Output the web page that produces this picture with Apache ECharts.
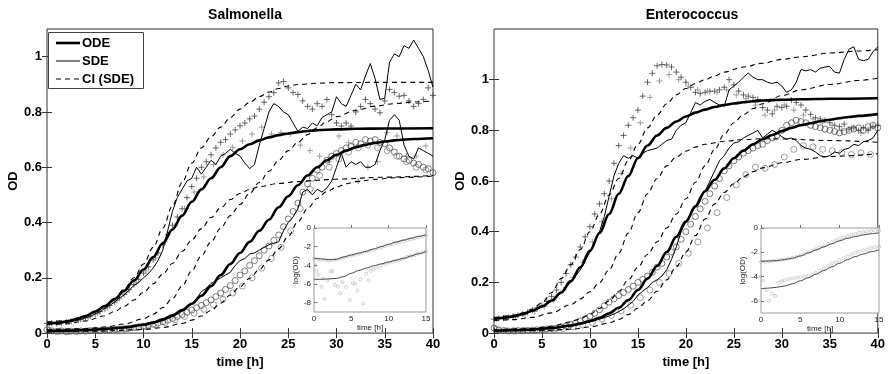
<!DOCTYPE html>
<html><head><meta charset="utf-8">
<script src="https://cdn.jsdelivr.net/npm/echarts@6/dist/echarts.min.js"></script>
<style>html,body{margin:0;padding:0;background:#fff}#c{width:888px;height:374px}</style>
</head><body><div id="c"></div>
<script>
// ---------- shared time grids ----------
const tHalf = [0,0.5,1,1.5,2,2.5,3,3.5,4,4.5,5,5.5,6,6.5,7,7.5,8,8.5,9,9.5,10,10.5,11,11.5,12,12.5,13,13.5,14,14.5,15,15.5,16,16.5,17,17.5,18,18.5,19,19.5,20,20.5,21,21.5,22,22.5,23,23.5,24,24.5,25,25.5,26,26.5,27,27.5,28,28.5,29,29.5,30,30.5,31,31.5,32,32.5,33,33.5,34,34.5,35,35.5,36,36.5,37,37.5,38,38.5,39,39.5,40];
const tOff = [0.25,1.25,2.25,3.25,4.25,5.25,6.25,7.25,8.25,9.25,10.25,11.25,12.25,13.25,14.25,15.25,16.25,17.25,18.25,19.25,20.25,21.25,22.25,23.25,24.25,25.25,26.25,27.25,28.25,29.25,30.25,31.25,32.25,33.25,34.25,35.25,36.25,37.25,38.25,39.25];
const insetT = [0,1,2,3,4,5,6,7,8,9,10,11,12,13,14,15];
const insetTHalf = [0,0.5,1,1.5,2,2.5,3,3.5,4,4.5,5,5.5,6,6.5,7,7.5,8,8.5,9,9.5,10,10.5,11,11.5,12,12.5,13,13.5,14,14.5,15];
const xTicks = [0,5,10,15,20,25,30,35,40];
const yTicks = [0,0.2,0.4,0.6,0.8,1];
const insetXTicks = [0,5,10,15];
const insetYTicksL = [0,-2,-4,-6,-8];
const insetYTicksR = [0,-2,-4,-6];
const titles = ['Salmonella','Enterococcus'];
const legendNames = ['ODE','SDE','CI (SDE)'];

// ---------- Salmonella (left) ----------
const odeL1 = [[0,0.035],[1,0.037],[2,0.042],[3,0.05],[4,0.062],[5,0.078],[6,0.098],[7,0.123],[8,0.153],[9,0.19],[10,0.23],[11,0.275],[12,0.325],[13,0.375],[14,0.425],[15,0.475],[16,0.52],[17,0.56],[18,0.6],[19,0.64],[20,0.665],[21,0.683],[22,0.697],[23,0.708],[24,0.716],[25,0.722],[26,0.727],[27,0.731],[28,0.734],[30,0.737],[32,0.739],[35,0.74],[40,0.741]];
const odeL2 = [[0,0.008],[2,0.009],[4,0.011],[6,0.015],[8,0.02],[10,0.03],[11,0.038],[12,0.05],[13,0.064],[14,0.083],[15,0.106],[16,0.135],[17,0.17],[18,0.21],[19,0.25],[20,0.29],[21,0.33],[22,0.37],[23,0.41],[24,0.455],[25,0.495],[26,0.535],[27,0.57],[28,0.6],[29,0.625],[30,0.645],[31,0.66],[32,0.672],[33,0.681],[34,0.688],[35,0.693],[36,0.697],[37,0.7],[38,0.702],[40,0.705]];
const ciL1U = [[0,0.04],[2,0.045],[4,0.062],[5,0.077],[6,0.097],[7,0.125],[8,0.16],[9,0.2],[10,0.25],[11,0.31],[12,0.38],[13,0.46],[14,0.545],[15,0.615],[16,0.67],[17,0.71],[18,0.745],[19,0.78],[20,0.81],[21,0.835],[22,0.855],[23,0.872],[24,0.885],[25,0.894],[26,0.899],[28,0.904],[30,0.906],[35,0.907],[40,0.907]];
const ciL1L = [[0,0.03],[2,0.034],[4,0.044],[6,0.063],[7,0.078],[8,0.097],[9,0.12],[10,0.147],[11,0.178],[12,0.213],[13,0.252],[14,0.295],[15,0.337],[16,0.378],[17,0.418],[18,0.453],[19,0.483],[20,0.505],[21,0.52],[22,0.53],[24,0.541],[26,0.548],[28,0.553],[30,0.557],[35,0.564],[40,0.57]];
const ciL2U = [[0,0.012],[4,0.016],[6,0.022],[8,0.033],[10,0.052],[11,0.068],[12,0.092],[13,0.125],[14,0.17],[15,0.225],[16,0.28],[17,0.33],[18,0.38],[19,0.425],[20,0.465],[21,0.505],[22,0.545],[23,0.585],[24,0.625],[25,0.66],[26,0.69],[27,0.718],[28,0.743],[29,0.765],[30,0.783],[32,0.806],[34,0.821],[36,0.83],[38,0.836],[40,0.84]];
const ciL2L = [[0,0.005],[5,0.007],[10,0.013],[12,0.02],[14,0.035],[15,0.047],[16,0.062],[17,0.082],[18,0.108],[19,0.138],[20,0.168],[21,0.198],[22,0.23],[23,0.265],[24,0.305],[25,0.35],[26,0.403],[27,0.45],[28,0.487],[29,0.512],[30,0.528],[31,0.54],[32,0.548],[34,0.556],[36,0.562],[40,0.568]];
const sdeL1 = [0.035,0.037,0.033,0.036,0.040,0.041,0.046,0.049,0.056,0.060,
 0.070,0.077,0.090,0.100,0.112,0.127,0.138,0.155,0.172,0.183,
 0.200,0.215,0.235,0.262,0.300,0.370,0.440,0.490,0.520,0.550,
 0.560,0.600,0.575,0.600,0.625,0.610,0.640,0.650,0.665,0.650,
 0.640,0.615,0.595,0.610,0.680,0.740,0.800,0.830,0.820,0.800,
 0.790,0.760,0.730,0.745,0.740,0.760,0.750,0.780,0.790,0.800,
 0.855,0.830,0.820,0.860,0.900,0.880,0.930,0.975,0.920,0.845,
 0.850,0.980,1.010,1.000,1.040,1.030,1.060,1.030,1.000,0.950,
 0.890];
const sdeL2 = [0.008,0.009,0.009,0.008,0.008,0.009,0.010,0.010,0.011,0.011,
 0.012,0.013,0.014,0.015,0.017,0.018,0.020,0.022,0.025,0.027,
 0.030,0.033,0.036,0.040,0.045,0.052,0.060,0.068,0.080,0.092,
 0.105,0.125,0.150,0.162,0.180,0.188,0.200,0.210,0.220,0.245,
 0.262,0.270,0.286,0.290,0.300,0.310,0.320,0.325,0.330,0.370,
 0.400,0.420,0.450,0.510,0.520,0.500,0.520,0.510,0.525,0.550,
 0.600,0.650,0.600,0.620,0.610,0.620,0.600,0.600,0.610,0.660,
 0.700,0.770,0.790,0.770,0.680,0.640,0.630,0.670,0.660,0.650,
 0.640];
const plusL1 = [0.035,0.036,0.035,0.037,0.040,0.042,0.046,0.050,0.055,0.062,
 0.070,0.078,0.088,0.100,0.112,0.126,0.140,0.157,0.175,0.195,
 0.217,0.240,0.265,0.290,0.320,0.355,0.390,0.420,0.450,0.490,
 0.530,0.560,0.600,0.620,0.645,0.670,0.690,0.700,0.720,0.735,
 0.750,0.760,0.775,0.785,0.810,0.835,0.855,0.870,0.905,0.910,
 0.887,0.870,0.863,0.840,0.820,0.810,0.830,0.820,0.845,0.790,
 0.760,0.749,0.760,0.749,0.800,0.820,0.845,0.830,0.810,0.797,
 0.840,0.881,0.870,0.857,0.860,0.840,0.820,0.830,0.845,0.887,
 0.860];
const plusL2 = [0.033,0.036,0.040,0.047,0.057,0.072,0.092,0.118,0.148,0.183,
 0.225,0.272,0.330,0.390,0.450,0.510,0.565,0.610,0.645,0.672,
 0.695,0.720,0.745,0.720,0.725,0.720,0.680,0.660,0.640,0.620,
 0.713,0.689,0.550,0.600,0.620,0.725,0.713,0.640,0.640,0.677];
const circL1 = [0.012,0.008,0.006,0.008,0.005,0.007,0.006,0.008,0.007,0.009,
 0.010,0.009,0.012,0.011,0.013,0.015,0.016,0.018,0.020,0.022,
 0.025,0.028,0.032,0.036,0.041,0.047,0.053,0.060,0.067,0.075,
 0.083,0.092,0.100,0.110,0.120,0.132,0.145,0.158,0.172,0.190,
 0.210,0.225,0.245,0.262,0.280,0.300,0.315,0.335,0.355,0.385,
 0.413,0.440,0.470,0.510,0.540,0.560,0.590,0.600,0.625,0.640,
 0.650,0.660,0.670,0.675,0.690,0.685,0.700,0.695,0.700,0.690,
 0.685,0.670,0.655,0.640,0.630,0.625,0.615,0.610,0.600,0.595,
 0.580];
const circL2 = [0.010,0.007,0.006,0.007,0.008,0.009,0.011,0.013,0.016,0.020,
 0.024,0.030,0.038,0.048,0.060,0.072,0.086,0.103,0.122,0.145,
 0.170,0.200,0.235,0.270,0.310,0.370,0.450,0.520,0.570,0.600,
 0.630,0.655,0.670,0.680,0.670,0.660,0.640,0.620,0.600,0.590];
const insL_lineU = [-3.25,-3.3,-3.4,-3.35,-3.1,-2.9,-2.7,-2.5,-2.25,-2.0,-1.75,-1.5,-1.3,-1.1,-0.9,-0.72];
const insL_lineL = [-5.5,-5.5,-5.45,-5.4,-5.2,-4.85,-4.55,-4.3,-4.05,-3.85,-3.65,-3.45,-3.25,-3.0,-2.75,-2.52];
const insL_dataU = [-3.3,-3.35,-3.4,-3.45,-3.5,-3.45,-3.4,-3.3,-3.15,-3.05,-2.95,-2.85,-2.75,-2.65,-2.55,-2.45,-2.35,-2.2,-2.1,-1.95,-1.85,-1.75,-1.6,-1.5,-1.4,-1.3,-1.2,-1.1,-1.0,-0.9,-0.8];
const insL_dataL = [[0.2,-4.0],[0.3,-4.6],[0.6,-5.0],[1,-6.3],[1.2,-5.4],[1.4,-7.6],[1.8,-5.6],[2.2,-4.7],[2.5,-4.6],[2.8,-6.1],[3.2,-6.3],[3.5,-7.0],[3.8,-5.8],[4.3,-6.3],[4.8,-7.7],[5.2,-5.9],[5.5,-6.0],[5.8,-6.7],[6.2,-5.5],[6.6,-8.1],[7,-4.9],[7.3,-5.6],[7.6,-4.6],[8,-4.4],[8.5,-4.2],[9,-4.0],[9.5,-3.85],[10,-3.7],[10.5,-3.6],[11,-3.5],[11.5,-3.4],[12,-3.25],[12.5,-3.1],[13,-3.0],[13.5,-2.9],[14,-2.75],[14.5,-2.6],[15,-2.5]];

// ---------- Enterococcus (right) ----------
const odeR1 = [[0,0.057],[1,0.06],[2,0.066],[3,0.075],[4,0.088],[5,0.105],[6,0.128],[7,0.16],[8,0.205],[9,0.26],[10,0.325],[11,0.395],[12,0.47],[13,0.55],[14,0.62],[15,0.69],[16,0.74],[17,0.78],[18,0.81],[19,0.835],[20,0.855],[21,0.87],[22,0.882],[23,0.892],[24,0.9],[25,0.906],[26,0.911],[27,0.915],[28,0.918],[30,0.921],[32,0.923],[35,0.925],[40,0.927]];
const odeR2 = [[0,0.01],[2,0.011],[4,0.014],[6,0.02],[8,0.03],[9,0.038],[10,0.048],[11,0.06],[12,0.078],[13,0.1],[14,0.13],[15,0.17],[16,0.215],[17,0.265],[18,0.32],[19,0.38],[20,0.44],[21,0.5],[22,0.56],[23,0.605],[24,0.65],[25,0.69],[26,0.72],[27,0.745],[28,0.765],[29,0.782],[30,0.797],[31,0.81],[32,0.82],[33,0.828],[34,0.836],[35,0.842],[36,0.848],[37,0.853],[38,0.857],[40,0.864]];
const ciR1U = [[0,0.06],[2,0.07],[3,0.08],[4,0.095],[5,0.12],[6,0.16],[7,0.215],[8,0.27],[9,0.33],[10,0.4],[11,0.47],[12,0.545],[13,0.61],[14,0.68],[15,0.745],[16,0.81],[17,0.86],[18,0.905],[19,0.94],[20,0.965],[21,0.985],[22,1.0],[23,1.015],[24,1.03],[26,1.05],[28,1.065],[30,1.08],[32,1.09],[35,1.105],[38,1.113],[40,1.118]];
const ciR1L = [[0,0.05],[2,0.053],[4,0.062],[6,0.08],[8,0.112],[9,0.135],[10,0.163],[11,0.2],[12,0.25],[13,0.315],[14,0.395],[15,0.475],[16,0.55],[17,0.61],[18,0.66],[19,0.695],[20,0.718],[21,0.734],[22,0.745],[24,0.757],[26,0.764],[28,0.767],[30,0.766],[35,0.76],[40,0.753]];
const ciR2U = [[0,0.012],[4,0.018],[6,0.027],[8,0.044],[9,0.057],[10,0.074],[11,0.097],[12,0.127],[13,0.165],[14,0.21],[15,0.26],[16,0.31],[17,0.36],[18,0.415],[19,0.47],[20,0.53],[21,0.595],[22,0.66],[23,0.725],[24,0.785],[25,0.83],[26,0.862],[27,0.886],[28,0.905],[30,0.937],[32,0.96],[35,0.981],[38,0.997],[40,1.006]];
const ciR2L = [[0,0.008],[5,0.01],[8,0.015],[10,0.024],[12,0.04],[13,0.054],[14,0.073],[15,0.098],[16,0.128],[17,0.165],[18,0.21],[19,0.262],[20,0.32],[21,0.385],[22,0.45],[23,0.51],[24,0.555],[25,0.59],[26,0.617],[27,0.637],[28,0.652],[30,0.672],[32,0.685],[35,0.697],[40,0.708]];
const sdeR1 = [0.057,0.058,0.060,0.062,0.066,0.070,0.074,0.080,0.087,0.095,
 0.104,0.115,0.127,0.142,0.158,0.180,0.200,0.225,0.250,0.285,
 0.320,0.360,0.400,0.460,0.540,0.620,0.670,0.700,0.690,0.700,
 0.690,0.710,0.720,0.725,0.730,0.745,0.760,0.765,0.800,0.820,
 0.830,0.870,0.910,0.900,0.915,0.922,0.910,0.900,0.895,0.960,
 0.975,0.990,1.010,1.026,1.010,1.000,1.000,0.990,0.985,0.990,
 0.975,0.950,0.960,0.990,1.040,1.035,1.040,1.030,1.045,1.050,
 1.052,1.030,1.026,1.080,1.120,1.130,1.080,1.075,1.080,1.110,
 1.130];
const sdeR2 = [0.010,0.010,0.010,0.011,0.011,0.011,0.012,0.013,0.014,0.015,
 0.016,0.017,0.019,0.021,0.023,0.025,0.028,0.031,0.035,0.039,
 0.044,0.049,0.055,0.061,0.068,0.075,0.085,0.095,0.110,0.125,
 0.150,0.165,0.180,0.200,0.210,0.225,0.250,0.290,0.340,0.400,
 0.440,0.470,0.500,0.540,0.560,0.600,0.640,0.680,0.700,0.730,
 0.750,0.755,0.770,0.780,0.790,0.800,0.770,0.785,0.800,0.790,
 0.775,0.765,0.770,0.760,0.740,0.730,0.725,0.715,0.700,0.695,
 0.700,0.715,0.710,0.725,0.730,0.745,0.740,0.755,0.760,0.770,
 0.800];
const plusR1 = [0.055,0.058,0.060,0.062,0.066,0.070,0.075,0.082,0.090,0.100,
 0.110,0.125,0.145,0.170,0.200,0.235,0.270,0.300,0.340,0.380,
 0.420,0.470,0.510,0.550,0.600,0.670,0.740,0.780,0.820,0.850,
 0.880,0.935,0.990,1.025,1.055,1.060,1.058,1.050,1.030,1.010,
 0.990,0.970,0.950,0.945,0.950,0.954,0.955,0.960,0.970,1.000,
 0.980,0.955,0.940,0.935,0.930,0.922,0.890,0.880,0.865,0.895,
 0.890,0.895,0.920,0.910,0.900,0.880,0.863,0.850,0.845,0.840,
 0.830,0.820,0.815,0.825,0.805,0.810,0.800,0.810,0.800,0.815,
 0.820];
const plusR2 = [0.056,0.060,0.065,0.072,0.085,0.105,0.130,0.170,0.220,0.280,
 0.360,0.440,0.530,0.630,0.730,0.830,0.930,0.995,1.020,1.000,
 0.975,0.960,0.955,0.950,0.960,0.940,0.925,0.900,0.860,0.880,
 0.900,0.880,0.860,0.845,0.830,0.820,0.800,0.810,0.790,0.810];
const circR1 = [0.020,0.012,0.010,0.008,0.009,0.010,0.010,0.011,0.012,0.013,
 0.014,0.016,0.018,0.020,0.024,0.028,0.034,0.040,0.048,0.056,
 0.066,0.078,0.092,0.108,0.122,0.135,0.148,0.160,0.172,0.185,
 0.200,0.212,0.225,0.240,0.260,0.275,0.300,0.320,0.340,0.370,
 0.400,0.430,0.460,0.490,0.520,0.550,0.580,0.610,0.640,0.660,
 0.680,0.695,0.710,0.720,0.730,0.740,0.745,0.760,0.770,0.780,
 0.800,0.820,0.830,0.840,0.835,0.830,0.820,0.815,0.810,0.805,
 0.800,0.795,0.790,0.795,0.800,0.805,0.810,0.800,0.815,0.820,
 0.810];
const circR2 = [0.015,0.009,0.008,0.009,0.010,0.012,0.014,0.018,0.024,0.032,
 0.042,0.055,0.070,0.088,0.110,0.140,0.170,0.200,0.235,0.275,
 0.315,0.360,0.415,0.475,0.535,0.585,0.625,0.655,0.650,0.665,
 0.695,0.725,0.740,0.735,0.725,0.720,0.712,0.705,0.712,0.705];
const insR_lineU = [-2.75,-2.72,-2.68,-2.6,-2.48,-2.3,-2.05,-1.8,-1.55,-1.3,-1.05,-0.85,-0.7,-0.57,-0.47,-0.4];
const insR_lineL = [-5.0,-4.95,-4.88,-4.78,-4.6,-4.35,-4.1,-3.8,-3.5,-3.2,-2.9,-2.6,-2.35,-2.15,-1.95,-1.8];
const insR_dataU = [-2.8,-2.78,-2.75,-2.72,-2.68,-2.63,-2.58,-2.52,-2.45,-2.37,-2.27,-2.15,-2.02,-1.88,-1.74,-1.6,-1.45,-1.3,-1.16,-1.02,-0.9,-0.78,-0.67,-0.57,-0.48,-0.4,-0.34,-0.29,-0.25,-0.22,-0.2];
const insR_dataL = [[0,-4.0],[0.3,-4.3],[0.7,-5.1],[1,-6.0],[1.4,-5.4],[1.8,-5.6],[2.2,-4.5],[2.6,-4.4],[3,-4.3],[3.5,-4.2],[4,-4.15],[4.5,-4.1],[5,-4.05],[5.5,-4.0],[6,-3.95],[6.5,-3.85],[7,-3.7],[7.5,-3.5],[8,-3.3],[8.5,-3.1],[9,-2.95],[9.5,-2.8],[10,-2.65],[10.5,-2.5],[11,-2.35],[11.5,-2.2],[12,-2.05],[12.5,-1.95],[13,-1.85],[13.5,-1.75],[14,-1.65],[14.5,-1.6],[15,-1.55]];

// ---------- build chart ----------
const FF = '"Liberation Sans", Arial, Helvetica, sans-serif';
const zip = (ts, vs) => ts.map((t, i) => [t, vs[i]]);
const PLUS = 'path://M5,0L5,10M0,5L10,5';

const grids = [
  {left: 47, top: 29, width: 386, height: 305},
  {left: 494, top: 29, width: 387, height: 306},
  {left: 314, top: 228, width: 112, height: 84},
  {left: 761, top: 228, width: 118, height: 85}
].map(g => Object.assign({show: true, borderColor: '#333', borderWidth: 1, backgroundColor: '#fff'}, g));
grids[2].borderColor = '#999'; grids[3].borderColor = '#999';

function mainX(gi, top) {
  return {type: 'value', gridIndex: gi, min: 0, max: 40, position: top ? 'top' : 'bottom',
    axisLine: {show: false}, splitLine: {show: false},
    axisTick: {show: true, inside: true, length: 5, customValues: xTicks, lineStyle: {color: '#333'}},
    axisLabel: {show: !top, customValues: xTicks, fontFamily: FF, fontWeight: 'bold', fontSize: 13, color: '#000', margin: 5},
    name: top ? '' : 'time [h]', nameLocation: 'middle', nameGap: 22,
    nameTextStyle: {fontFamily: FF, fontWeight: 'bold', fontSize: 13, color: '#000'}};
}
function mainY(gi, maxV, right) {
  return {type: 'value', gridIndex: gi, min: 0, max: maxV, position: right ? 'right' : 'left',
    axisLine: {show: false}, splitLine: {show: false},
    axisTick: {show: true, inside: true, length: 5, customValues: yTicks, lineStyle: {color: '#333'}},
    axisLabel: {show: !right, customValues: yTicks, fontFamily: FF, fontWeight: 'bold', fontSize: 13, color: '#000', margin: 5},
    name: right ? '' : 'OD', nameLocation: 'middle', nameGap: 27, nameRotate: 90,
    nameTextStyle: {fontFamily: FF, fontWeight: 'bold', fontSize: 13, color: '#000'}};
}
function insetX(gi) {
  return {type: 'value', gridIndex: gi, min: 0, max: 15,
    axisLine: {show: false}, splitLine: {show: false},
    axisTick: {show: true, inside: true, length: 3, customValues: insetXTicks, lineStyle: {color: '#777'}},
    axisLabel: {customValues: insetXTicks, fontFamily: FF, fontSize: 8, color: '#222', margin: 3},
    name: 'time [h]', nameLocation: 'middle', nameGap: 12,
    nameTextStyle: {fontFamily: FF, fontSize: 8, color: '#222'}};
}
function insetY(gi, minV, ticks) {
  return {type: 'value', gridIndex: gi, min: minV, max: 0,
    axisLine: {show: false}, splitLine: {show: false},
    axisTick: {show: true, inside: true, length: 3, customValues: ticks, lineStyle: {color: '#777'}},
    axisLabel: {customValues: ticks, fontFamily: FF, fontSize: 8, color: '#222', margin: 3},
    name: 'log(OD)', nameLocation: 'middle', nameGap: 14, nameRotate: 90,
    nameTextStyle: {fontFamily: FF, fontSize: 8, color: '#222'}};
}

const xAxis = [mainX(0, false), mainX(0, true), mainX(1, false), mainX(1, true), insetX(2), insetX(3)];
const yAxis = [mainY(0, 1.1, false), mainY(0, 1.1, true), mainY(1, 1.2, false), mainY(1, 1.2, true), insetY(2, -9, insetYTicksL), insetY(3, -7, insetYTicksR)];

const series = [];
function line(name, data, ax, width, dashed, smooth, color) {
  series.push({type: 'line', name, data, xAxisIndex: ax, yAxisIndex: ax, symbol: 'none',
    smooth: smooth ? 0.35 : false, smoothMonotone: 'x', silent: true, animation: false,
    lineStyle: {color: color || '#000', width, type: dashed ? [5, 4] : 'solid'}, z: dashed ? 3 : 4});
}
function pts(name, data, ax, sym, size, color, bw) {
  series.push({type: 'scatter', name, data, xAxisIndex: ax, yAxisIndex: ax, symbol: sym, symbolSize: size,
    silent: true, animation: false, z: 2,
    itemStyle: {color: 'rgba(0,0,0,0)', borderColor: color, borderWidth: bw}});
}
// left main (axis index 0)
pts('+ A', zip(tHalf, plusL1), 0, PLUS, 6, '#444', 1);
pts('+ B', zip(tOff, plusL2), 0, PLUS, 6, '#888', 1);
pts('o A', zip(tHalf, circL1), 0, 'circle', 6, '#333', 0.8);
pts('o B', zip(tOff, circL2), 0, 'circle', 6, '#666', 0.8);
line('CI (SDE)', ciL1U, 0, 1.1, true, true);
line('CI (SDE)', ciL1L, 0, 1.1, true, true);
line('CI (SDE)', ciL2U, 0, 1.1, true, true);
line('CI (SDE)', ciL2L, 0, 1.1, true, true);
line('ODE', odeL1, 0, 2.6, false, true);
line('ODE', odeL2, 0, 2.6, false, true);
line('SDE', zip(tHalf, sdeL1), 0, 1, false, false);
line('SDE', zip(tHalf, sdeL2), 0, 1, false, false);
// right main (axis index 2)
pts('+ A', zip(tHalf, plusR1), 2, PLUS, 6, '#444', 1);
pts('+ B', zip(tOff, plusR2), 2, PLUS, 6, '#888', 1);
pts('o A', zip(tHalf, circR1), 2, 'circle', 6, '#333', 0.8);
pts('o B', zip(tOff, circR2), 2, 'circle', 6, '#666', 0.8);
line('CI (SDE)', ciR1U, 2, 1.1, true, true);
line('CI (SDE)', ciR1L, 2, 1.1, true, true);
line('CI (SDE)', ciR2U, 2, 1.1, true, true);
line('CI (SDE)', ciR2L, 2, 1.1, true, true);
line('ODE', odeR1, 2, 2.6, false, true);
line('ODE', odeR2, 2, 2.6, false, true);
line('SDE', zip(tHalf, sdeR1), 2, 1, false, false);
line('SDE', zip(tHalf, sdeR2), 2, 1, false, false);
// insets (axis index 4, 5)
pts('ins', zip(insetTHalf, insL_dataU), 4, 'circle', 3, '#aaa', 0.7);
pts('ins', insL_dataL, 4, 'circle', 3, '#aaa', 0.7);
line('insline', zip(insetT, insL_lineU), 4, 0.9, false, true, '#333');
line('insline', zip(insetT, insL_lineL), 4, 0.9, false, true, '#333');
pts('ins', zip(insetTHalf, insR_dataU), 5, 'circle', 3, '#aaa', 0.7);
pts('ins', insR_dataL, 5, 'circle', 3, '#aaa', 0.7);
line('insline', zip(insetT, insR_lineU), 5, 0.9, false, true, '#333');
line('insline', zip(insetT, insR_lineL), 5, 0.9, false, true, '#333');

// legend box (drawn as graphic: line samples + real text)
const legendRows = [{y: 43, w: 2.6, dash: null}, {y: 61, w: 1, dash: null}, {y: 79, w: 1, dash: [5, 4]}];
const legendGraphic = [{type: 'rect', left: 48, top: 32, z: 100,
  shape: {width: 95, height: 56}, style: {fill: '#fff', stroke: '#444', lineWidth: 1}}];
legendRows.forEach((r, i) => {
  legendGraphic.push({type: 'line', z: 101, shape: {x1: 56, y1: r.y, x2: 80, y2: r.y},
    style: {stroke: '#000', lineWidth: r.w, lineDash: r.dash}});
  legendGraphic.push({type: 'text', z: 101, x: 82, y: r.y,
    style: {text: legendNames[i], font: 'bold 13px ' + FF, fill: '#000', textVerticalAlign: 'middle', verticalAlign: 'middle'}});
});

const chart = echarts.init(document.getElementById('c'), null, {renderer: 'canvas'});
chart.setOption({
  animation: false,
  backgroundColor: '#fff',
  title: [
    {text: titles[0], left: 240, top: 3, textAlign: 'center', textStyle: {fontFamily: FF, fontWeight: 'bold', fontSize: 14, color: '#000'}},
    {text: titles[1], left: 687, top: 3, textAlign: 'center', textStyle: {fontFamily: FF, fontWeight: 'bold', fontSize: 14, color: '#000'}}
  ],
  graphic: legendGraphic,
  grid: grids,
  xAxis, yAxis, series
});
</script>
</body></html>
